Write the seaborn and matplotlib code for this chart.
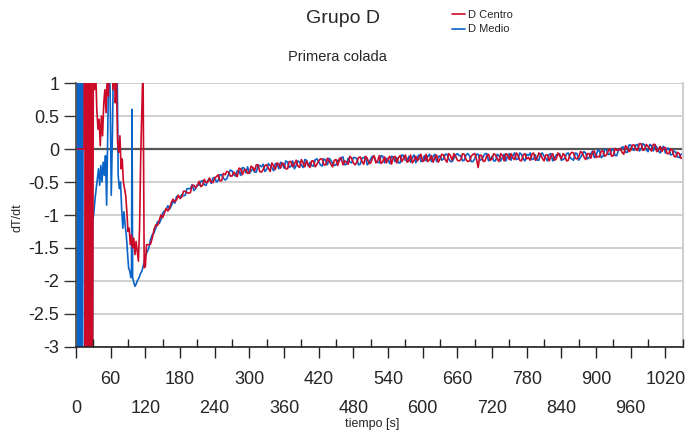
import numpy as np
import pandas as pd
import matplotlib
matplotlib.use('Agg')
import matplotlib.pyplot as plt
import seaborn as sns

# primeros segundos (zona inestable)
medio_t_ini = [2, 3, 5, 7, 9, 11, 13, 26, 28, 29, 31, 33, 35, 37, 39, 41, 43, 45, 47, 49, 51, 53,
               55, 57, 59, 61, 63, 65, 67, 69, 71, 73, 75, 77, 79, 81, 83, 85, 87, 89, 91, 93,
               95, 96, 97, 98, 100, 102, 104, 106, 108, 110, 112, 114, 116, 118, 120]
medio_v_ini = [5, -6, 6, -6, 6, -6, 5, 5, -6, -1.1, -0.95, -0.75, -0.6, -0.45, -0.3, -0.55, -0.25,
               -0.5, -0.2, -0.4, -0.1, -0.85, 0.3, 1.6, 0.9, -0.7, 0.2, 1.5, 2.0, 1.8, 1.4, -0.4,
               -0.6, -0.5, -0.9, -1.2, -0.95, -1.15, -1.3, -1.55, -1.8, -1.85, -1.95, -1.9, 0.6,
               -1.95, -2.02, -2.08, -2.05, -2.0, -1.97, -1.93, -1.88, -1.85, -1.78, -1.72, -1.62]

centro_t_ini = [0, 14, 15, 16, 18, 20, 22, 24, 26, 28, 30, 32, 34, 36, 38, 40, 42, 44, 46, 48, 50,
                52, 54, 56, 58, 60, 62, 64, 66, 68, 70, 72, 74, 76, 78, 80, 82, 84, 86, 88, 90,
                92, 94, 96, 98, 100, 102, 104, 106, 108, 110, 112, 114, 116, 118, 120, 122]
centro_v_ini = [0, 0, 6, -6, 6, -6, 5, -6, 6, -6, 1.3, 0.9, 1.2, 0.6, 0.3, 0.45, 0.05, 0.5, 0.2,
                0.7, 0.9, 0.55, 1.1, 0.8, 1.3, 1.1, 1.5, 0.9, 1.4, 0.7, 1.0, 0.1, -0.05, 0.2, -0.3,
                -0.15, -0.5, -0.6, -0.7, -0.95, -1.25, -1.2, -1.45, -1.3, -1.5, -1.35, -1.6, -1.4,
                -1.55, -1.7, -1.2, -0.1, 0.6, 1.3, -1.8, -1.78, -1.45]

# resto del ensayo: lecturas cada 6 s desde 126 s ...
tiempo = np.arange(126, 1051, 6)
centro_v = [
    -1.45, -1.35, -1.15, -1.08, -1.04, -0.90, -0.89, -0.76, -0.77, -0.75,
    -0.64, -0.66, -0.66, -0.55, -0.55, -0.57, -0.46, -0.50, -0.50, -0.44,
    -0.39, -0.48, -0.39, -0.35, -0.41, -0.38, -0.29, -0.39, -0.31, -0.36,
    -0.28, -0.24, -0.34, -0.31, -0.24, -0.34, -0.26, -0.21, -0.29, -0.23,
    -0.30, -0.19, -0.23, -0.26, -0.16, -0.27, -0.24, -0.18, -0.27, -0.18,
    -0.15, -0.24, -0.18, -0.27, -0.16, -0.14, -0.24, -0.20, -0.11, -0.21,
    -0.20, -0.12, -0.23, -0.14, -0.21, -0.10, -0.18, -0.22, -0.12, -0.15,
    -0.23, -0.11, -0.13, -0.19, -0.09, -0.18, -0.21, -0.11, -0.13, -0.19,
    -0.08, -0.16, -0.20, -0.09, -0.15, -0.09, -0.20, -0.10, -0.07, -0.17,
    -0.16, -0.08, -0.19, -0.11, -0.07, -0.28, -0.10, -0.18, -0.08, -0.15,
    -0.09, -0.19, -0.10, -0.07, -0.16, -0.13, -0.06, -0.17, -0.09, -0.15,
    -0.17, -0.06, -0.14, -0.08, -0.18, -0.09, -0.11, -0.17, -0.06, -0.15,
    -0.10, -0.17, -0.05, -0.14, -0.12, -0.05, -0.16, -0.07, -0.05, -0.13,
    -0.12, -0.03, -0.09, 0.00, -0.10, -0.02, 0.01, -0.08, 0.02, -0.02,
    0.06, -0.02, 0.08, -0.01, 0.04, -0.03, 0.07, -0.01, -0.04, 0.02,
    -0.07, -0.02, -0.12, -0.07, -0.14]
medio_v = [
    -1.50, -1.30, -1.20, -1.13, -0.97, -0.92, -0.91, -0.79, -0.72, -0.74,
    -0.71, -0.60, -0.60, -0.63, -0.54, -0.49, -0.54, -0.48, -0.52, -0.43,
    -0.48, -0.39, -0.47, -0.38, -0.33, -0.41, -0.33, -0.28, -0.36, -0.37,
    -0.30, -0.35, -0.25, -0.23, -0.31, -0.25, -0.33, -0.23, -0.20, -0.29,
    -0.20, -0.26, -0.30, -0.18, -0.24, -0.16, -0.26, -0.25, -0.16, -0.19,
    -0.26, -0.17, -0.14, -0.22, -0.24, -0.18, -0.12, -0.23, -0.20, -0.13,
    -0.15, -0.23, -0.13, -0.24, -0.15, -0.12, -0.20, -0.10, -0.21, -0.17,
    -0.11, -0.19, -0.21, -0.09, -0.17, -0.11, -0.13, -0.21, -0.09, -0.17,
    -0.18, -0.08, -0.11, -0.19, -0.10, -0.15, -0.08, -0.19, -0.14, -0.07,
    -0.10, -0.17, -0.07, -0.19, -0.15, -0.08, -0.16, -0.07, -0.18, -0.11,
    -0.18, -0.10, -0.13, -0.18, -0.07, -0.10, -0.16, -0.06, -0.15, -0.08,
    -0.06, -0.15, -0.17, -0.08, -0.11, -0.18, -0.07, -0.14, -0.09, -0.17,
    -0.14, -0.06, -0.15, -0.06, -0.17, -0.08, -0.06, -0.13, -0.03, -0.10,
    -0.03, -0.11, -0.01, -0.08, -0.01, -0.10, -0.02, 0.03, -0.05, 0.06,
    -0.02, 0.07, 0.00, 0.06, -0.04, 0.05, 0.06, -0.03, 0.02, -0.06,
    0.01, -0.08, -0.05, -0.13, -0.08]

# ... y las intermedias, cada 6 s desde 129 s
tiempo_b = np.arange(129, 1048, 6)
centro_v_b = [
    -1.44, -1.22, -1.16, -1.00, -0.97, -0.94, -0.81, -0.80, -0.70, -0.73,
    -0.64, -0.67, -0.55, -0.59, -0.49, -0.55, -0.51, -0.44, -0.51, -0.42,
    -0.48, -0.37, -0.34, -0.41, -0.35, -0.42, -0.30, -0.32, -0.37, -0.26,
    -0.33, -0.24, -0.35, -0.25, -0.29, -0.21, -0.31, -0.23, -0.21, -0.30,
    -0.19, -0.27, -0.17, -0.28, -0.21, -0.18, -0.28, -0.18, -0.23, -0.15,
    -0.24, -0.14, -0.23, -0.17, -0.25, -0.14, -0.18, -0.23, -0.14, -0.24,
    -0.13, -0.19, -0.11, -0.22, -0.14, -0.21, -0.10, -0.19, -0.21, -0.11,
    -0.13, -0.21, -0.10, -0.14, -0.20, -0.09, -0.17, -0.18, -0.08, -0.17,
    -0.19, -0.10, -0.13, -0.20, -0.08, -0.16, -0.07, -0.17, -0.11, -0.18,
    -0.07, -0.16, -0.18, -0.08, -0.15, -0.09, -0.19, -0.10, -0.17, -0.07,
    -0.15, -0.07, -0.18, -0.09, -0.07, -0.16, -0.10, -0.18, -0.07, -0.13,
    -0.08, -0.17, -0.06, -0.14, -0.09, -0.18, -0.07, -0.15, -0.10, -0.07,
    -0.18, -0.08, -0.06, -0.15, -0.04, -0.12, -0.07, -0.14, -0.03, -0.11,
    -0.03, -0.11, -0.03, -0.11, 0.01, -0.01, -0.05, 0.05, -0.04, 0.06,
    -0.01, 0.08, -0.02, 0.07, 0.00, 0.07, -0.04, 0.04, 0.02, -0.07,
    0.00, -0.11, -0.05, -0.14]
medio_v_b = [
    -1.37, -1.27, -1.10, -1.07, -0.94, -0.86, -0.86, -0.82, -0.71, -0.69,
    -0.70, -0.60, -0.54, -0.60, -0.55, -0.48, -0.55, -0.45, -0.44, -0.50,
    -0.39, -0.44, -0.45, -0.32, -0.39, -0.33, -0.40, -0.29, -0.27, -0.33,
    -0.35, -0.25, -0.27, -0.34, -0.22, -0.28, -0.22, -0.30, -0.22, -0.18,
    -0.28, -0.18, -0.25, -0.20, -0.28, -0.17, -0.20, -0.26, -0.15, -0.24,
    -0.15, -0.24, -0.17, -0.25, -0.17, -0.13, -0.24, -0.14, -0.21, -0.13,
    -0.24, -0.14, -0.12, -0.21, -0.11, -0.19, -0.21, -0.11, -0.14, -0.22,
    -0.12, -0.13, -0.21, -0.10, -0.18, -0.20, -0.09, -0.12, -0.19, -0.10,
    -0.11, -0.19, -0.08, -0.12, -0.17, -0.08, -0.15, -0.19, -0.09, -0.10,
    -0.18, -0.09, -0.10, -0.19, -0.08, -0.17, -0.11, -0.07, -0.16, -0.18,
    -0.08, -0.18, -0.08, -0.10, -0.17, -0.06, -0.15, -0.08, -0.18, -0.10,
    -0.16, -0.09, -0.17, -0.06, -0.14, -0.08, -0.18, -0.09, -0.07, -0.16,
    -0.07, -0.13, -0.17, -0.07, -0.13, -0.04, -0.15, -0.07, -0.13, -0.02,
    -0.13, -0.01, -0.08, -0.01, -0.10, 0.00, 0.03, -0.05, 0.06, -0.01,
    0.06, -0.03, 0.08, -0.01, 0.07, -0.03, 0.03, -0.06, 0.04, 0.01,
    -0.09, -0.03, -0.12, -0.08]

y_ticks = [1, 0.5, 0, -0.5, -1, -1.5, -2, -2.5, -3]
x_ticks = list(range(0, 1021, 60))

rojo = '#cc0a28'
azul = '#0a64c8'

medio = pd.DataFrame({'t': np.concatenate([medio_t_ini, tiempo, tiempo_b]),
                      'v': np.concatenate([medio_v_ini, medio_v, medio_v_b])}).sort_values('t')
centro = pd.DataFrame({'t': np.concatenate([centro_t_ini, tiempo, tiempo_b]),
                       'v': np.concatenate([centro_v_ini, centro_v, centro_v_b])}).sort_values('t')

sns.set_theme(style='white')
plt.rcParams['font.family'] = ['Liberation Sans', 'DejaVu Sans']
plt.rcParams['axes.unicode_minus'] = False

fig = plt.figure(figsize=(6.91, 4.37), dpi=100)
ax = fig.add_axes([0.110, 0.206, 0.878, 0.604])

sns.lineplot(data=medio, x='t', y='v', ax=ax, color=azul, lw=1.2, sort=False,
             estimator=None, label='D Medio', legend=False)
sns.lineplot(data=centro, x='t', y='v', ax=ax, color=rojo, lw=1.2, sort=False,
             estimator=None, label='D Centro', legend=False)

ax.set_xlim(0, 1050)
ax.set_ylim(-3, 1)

# lineas horizontales
for y in y_ticks:
    if y == 0:
        ax.axhline(y, color='#555555', lw=1.6, zorder=0.5)
    else:
        ax.axhline(y, color='#c8c8c8', lw=1.2, zorder=0.5)

ax.set_yticks(y_ticks)
ax.set_yticklabels([f'{v:g}' for v in y_ticks], fontsize=13)
ax.tick_params(axis='y', direction='out', length=9, width=1, color='#333333', pad=3, left=True)

# etiquetas del eje x en dos filas
ax.set_xticks([x for x in x_ticks if x % 120 == 0])
ax.set_xticklabels([str(x) for x in x_ticks if x % 120 == 0], fontsize=13)
ax.set_xticks([x for x in x_ticks if x % 120 != 0], minor=True)
ax.set_xticklabels([str(x) for x in x_ticks if x % 120 != 0], minor=True, fontsize=13)
ax.tick_params(axis='x', which='major', direction='out', length=8, width=1,
               color='#222222', pad=30, bottom=True)
ax.tick_params(axis='x', which='minor', direction='out', length=8, width=1,
               color='#222222', pad=9.5, bottom=True)

# marcas interiores cada 60 s desplazadas 30 s
ax2 = ax.twiny()
ax2.set_xlim(ax.get_xlim())
ax2.xaxis.set_ticks_position('bottom')
ax2.set_xticks([x + 30 for x in x_ticks])
ax2.tick_params(axis='x', direction='in', length=6, width=1, color='#222222',
                labelbottom=False, labeltop=False, bottom=True, top=False)
for s in ax2.spines.values():
    s.set_visible(False)

ax.spines['top'].set_visible(False)
ax.spines['right'].set_color('#d0d0d0')
ax.spines['right'].set_linewidth(1.5)
ax.spines['left'].set_color('#444444')
ax.spines['bottom'].set_color('#222222')
for s in ['left', 'bottom']:
    ax.spines[s].set_linewidth(1.2)

ax.set_xlabel('')
ax.set_ylabel('')
fig.text(0.538, 0.03, 'tiempo [s]', fontsize=9, ha='center', va='center')
fig.text(0.025, 0.503, 'dT/dt', fontsize=9, rotation=90, ha='center', va='center')

fig.text(0.496, 0.958, 'Grupo D', fontsize=14, ha='center', va='center')
fig.text(0.488, 0.870, 'Primera colada', fontsize=10.5, ha='center', va='center')

h, l = ax.get_legend_handles_labels()
order = [l.index('D Centro'), l.index('D Medio')]
fig.legend([h[i] for i in order], [l[i] for i in order], loc='upper left',
           bbox_to_anchor=(0.645, 0.993), frameon=False, fontsize=8, handlelength=1.1,
           handletextpad=0.3, labelspacing=0.42, borderaxespad=0.2)

fig.savefig('out.png', dpi=100)
